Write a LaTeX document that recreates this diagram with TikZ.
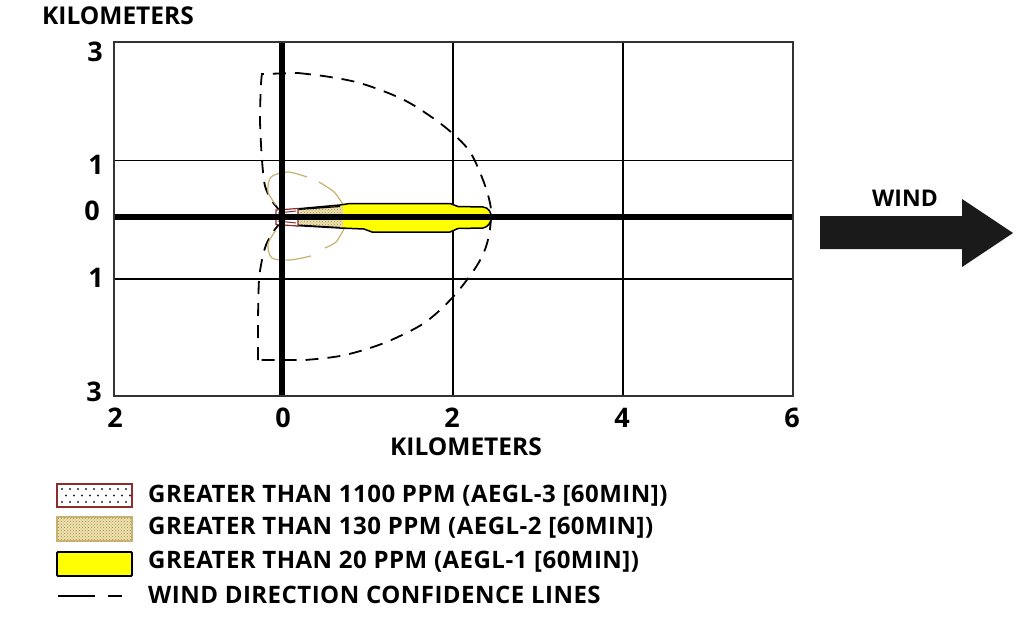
\documentclass[tikz,border=0pt]{standalone}
\usepackage{fontspec}
\setmainfont{Open Sans}
\usetikzlibrary{patterns}
\definecolor{framegray}{HTML}{333333}
\definecolor{plumeyellow}{HTML}{FFFF00}
\definecolor{tanline}{HTML}{C8B070}
\definecolor{tanfill}{HTML}{EFE2B0}
\definecolor{tandot}{HTML}{A08848}
\definecolor{redline}{HTML}{8A2E2E}
\definecolor{arrowblack}{HTML}{1A1A1A}
\begin{document}
\begin{tikzpicture}[x=1pt,y=-1pt,
  lbl/.style={font=\bfseries\fontsize{24.5}{24.5}\selectfont, inner sep=0pt},
  num/.style={font=\bfseries\fontsize{27}{27}\selectfont, inner sep=0pt},
  legtxt/.style={font=\bfseries\fontsize{24}{24}\selectfont\addfontfeature{LetterSpace=2}, inner sep=0pt, anchor=base west},
  grid/.style={line width=1.8pt, draw=black},
  axisline/.style={line width=5.5pt, draw=black},
  conf/.style={line width=1.8pt, draw=black, dash pattern=on 13pt off 9pt},
  tanc/.style={line width=1.2pt, draw=tanline},
]
\useasboundingbox (0,0) rectangle (1024,634);

% ---- grid ----
\draw[grid] (114,160.5) -- (793,160.5);
\draw[grid] (114,279) -- (793,279);
\draw[grid] (453,42) -- (453,396);
\draw[grid] (623,42) -- (623,396);

% ---- confidence lines (outer dashed) ----
\draw[conf] plot[smooth, tension=0.5] coordinates {
  (281,212) (272,201) (265,186) (262,160) (260,120) (261,84) (262,74)}
  -- (298,73)
  plot[smooth, tension=0.6] coordinates {
  (298,73) (330,77) (363,84) (402,99) (430,116) (452,133) (470,152)
  (483,180) (490,203) (491,217) (489,235) (484,252) (474,270) (453,297)
  (427,321) (400,336) (373,347) (340,356) (305,360)}
  -- (258,360)
  plot[smooth, tension=0.5] coordinates {
  (258,360) (258,320) (259,280) (262,260) (266,245) (273,232) (281,222)};

% ---- AEGL-2 confidence (tan) ----
\draw[tanc] plot[smooth] coordinates {(276,205) (268,192) (271,177) (288,172) (307,177)};
\draw[tanc] plot[smooth] coordinates {(319,182) (334,192) (344,206)};
\draw[tanc] plot[smooth] coordinates {(344,229) (336,242) (325,248)};
\draw[tanc] plot[smooth] coordinates {(311,256) (290,260) (272,258) (268,244) (276,230)};

% ---- plume AEGL-1 ----
\draw[line width=1.5pt, fill=plumeyellow]
  (296,209) -- (340,205) -- (350,203.5) -- (450,203.5) -- (458,206.5) -- (483,207)
  .. controls (494,208) and (494,226) .. (483,228)
  -- (458,228.5) -- (450,232) -- (372,232) -- (364,229) -- (340,228) -- (296,225.5) -- cycle;
% ---- AEGL-2 area ----
\fill[tanfill] (297,209.5) -- (343,206.5) -- (343,227) -- (297,225) -- cycle;
\fill[pattern=crosshatch dots, pattern color=tandot] (297,209.5) -- (343,206.5) -- (343,227) -- (297,225) -- cycle;
\draw[line width=1.2pt] (297,209.5) -- (340,206.5);
\draw[line width=1.2pt] (297,225) -- (340,227.5);
% ---- AEGL-3 area ----
\draw[redline, line width=1.2pt, fill=white] (276,210) -- (298,208.5) -- (298,226) -- (276,224.5) -- cycle;
\draw[redline, line width=1pt] (278,213) -- (296,211) (278,221) -- (296,223);

% ---- axes ----
\draw[axisline] (114,217) -- (793,217);
\draw[line width=6.5pt] (282,42) -- (282,396);
\draw[line width=2.4pt, draw=framegray] (114,42) rectangle (793,396);

% ---- axis labels ----
\node[lbl] (kmtop) at (118,16) {KILOMETERS};
\node[num] (y3t) at (95,52) {3};
\node[num] (y1t) at (96,165) {1};
\node[num] (y0) at (92,211) {0};
\node[num] (y1b) at (96,278) {1};
\node[num] (y3b) at (94,392) {3};
\node[num] (xm2) at (115,418) {2};
\node[num] (x0) at (283,418) {0};
\node[num] (x2) at (452,418) {2};
\node[num] (x4) at (622,418) {4};
\node[num] (x6) at (792,418) {6};
\node[lbl] (kmbot) at (466,447) {KILOMETERS};

% ---- wind arrow ----
\fill[arrowblack] (820,216) -- (962,216) -- (962,199) -- (1013,233) -- (962,267) -- (962,249) -- (820,249) -- cycle;
\node[lbl, font=\bfseries\fontsize{23}{23}\selectfont] (wind) at (905,198) {WIND};

% ---- legend ----
\draw[redline, line width=1.5pt, fill=white] (57,484) rectangle (132,507);
\foreach \r/\yy in {0/489,1/495.5,2/502}{
  \foreach \i in {0,...,8}{
    \fill[black!85] ({62+8*\i+4*mod(\r,2)},\yy) circle (1.1pt);
  }
}
\fill[tanfill] (57,517) rectangle (132,541);
\fill[pattern=crosshatch dots, pattern color=tandot] (57,517) rectangle (132,541);
\draw[tanline, line width=1.5pt] (57,517) rectangle (132,541);
\draw[line width=1.8pt, fill=plumeyellow, rounded corners=1pt] (57,552) rectangle (132,576);
\draw[line width=1.8pt] (58,596) -- (95,596) (108,596) -- (122,596);

\node[legtxt] (l1) at (148,502) {GREATER THAN 1100 PPM (AEGL-3 [60MIN])};
\node[legtxt] (l2) at (148,534) {GREATER THAN 130 PPM (AEGL-2 [60MIN])};
\node[legtxt] (l3) at (148,568) {GREATER THAN 20 PPM (AEGL-1 [60MIN])};
\node[legtxt] (l4) at (148,603) {WIND DIRECTION CONFIDENCE LINES};
\end{tikzpicture}
\end{document}
